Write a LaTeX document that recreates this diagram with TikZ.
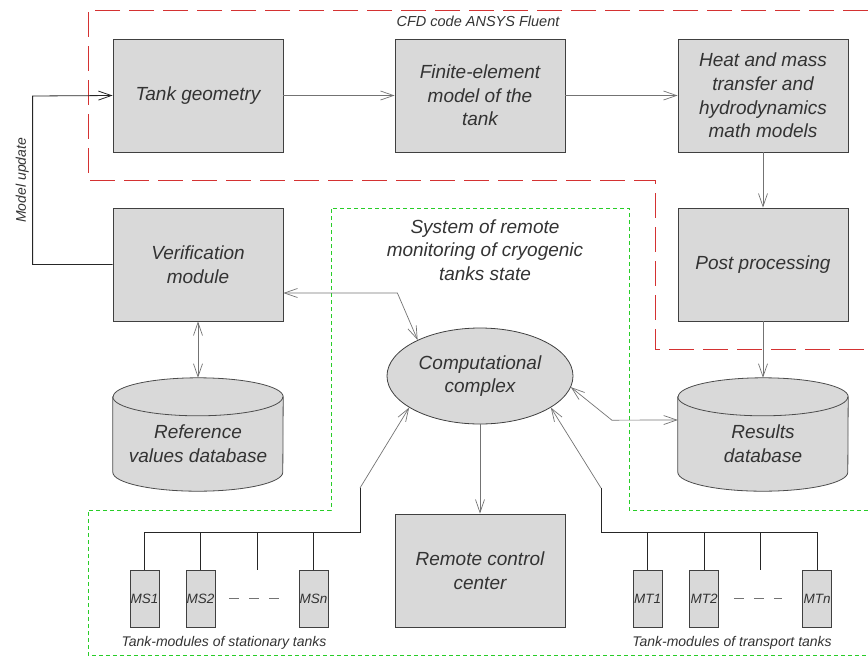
\documentclass[tikz,border=0pt]{standalone}
\usepackage{fontspec}
\setmainfont{Liberation Sans}
\usetikzlibrary{arrows.meta,shapes.geometric,backgrounds,calc}
\definecolor{boxgray}{RGB}{217,217,217}
\definecolor{cfdred}{RGB}{212,50,50}
\definecolor{rmsgreen}{RGB}{40,205,40}

\begin{document}
\begin{tikzpicture}[
    x=1pt, y=-1pt,
    font=\itshape\fontsize{19}{23.6}\selectfont,
    >={Straight Barb[length=13pt,width=9pt]},
    block/.style = {draw=black!75, fill=boxgray, line width=0.8pt, minimum width=170,
        minimum height=113, align=center, text=black!80},
    hub/.style = {ellipse, draw=black!75, fill=boxgray, line width=0.8pt, minimum width=186,
        minimum height=96, inner sep=0pt, align=center, text=black!80},
    drum/.style = {minimum width=170, minimum height=94, align=center, text=black!80},
    drumbody/.style = {draw=black!70, fill=boxgray, line width=0.8pt},
    module/.style = {draw=black!75, fill=boxgray, line width=0.8pt, minimum width=29,
        minimum height=57, inner sep=0pt, text=black!80, font=\itshape\fontsize{13.5}{15}\selectfont},
    link/.style = {draw=black!55, line width=0.7pt},
    bus/.style = {draw=black!85, line width=0.8pt},
    note/.style = {text=black!80, font=\itshape\fontsize{14}{16}\selectfont},
    cfd/.style = {draw=cfdred, line width=1pt, dash pattern=on 25pt off 9pt},
    rms/.style = {draw=rmsgreen, line width=1pt, dash pattern=on 4pt off 3pt}
  ]
  \useasboundingbox (0,0) rectangle (868,657);

  % frames
  \draw[cfd] (868,10) -- (88,10) -- (88,180) -- (655,180) -- (655,349) -- (868,349);
  \draw[rms] (868,510) -- (629,510) -- (629,208) -- (331,208) -- (331,510) -- (88,510)
    -- (88,655) -- (868,655);
  \node[note, font=\itshape\fontsize{14.5}{16}\selectfont] (cfdlabel) at (478,21) {CFD code ANSYS Fluent};
  \node[align=center, text=black!80] (rmslabel) at (485,250) {System of remote\\monitoring of cryogenic\\tanks state};

  \node[block] (tank) at (198,95.5) {Tank geometry};
  \node[block] (fem) at (480,95.5) {Finite-element\\model of the\\tank};
  \node[block] (heat) at (763,95.5) {Heat and mass\\transfer and\\hydrodynamics\\math models};
  \node[block] (post) at (763,264.5) {Post processing};
  \node[block] (verif) at (198,264.5) {Verification\\module};
  \node[drum] (refdb) at (198,444) {Reference\\values database};
  \node[drum] (resdb) at (763,444) {Results\\database};
  \node[hub] (comp) at (480,376) {Computational\\complex};
  \node[block] (remote) at (480,570.5) {Remote control\\center};

  \foreach \n/\x/\t in {ms1/144.5/MS1, ms2/200.5/MS2, msn/313.5/MSn,
                        mt1/647.5/MT1, mt2/704/MT2, mtn/817/MTn}
    \node[module] (\n) at (\x,598.5) {\t};
  \node[note] (mslabel) at (224,643) {Tank-modules of stationary tanks};
  \node[note] (mtlabel) at (732,643) {Tank-modules of transport tanks};

  % database drums
  \begin{scope}[on background layer]
    \foreach \d in {refdb,resdb} {
      \path[drumbody] (\d.north west) -- ([yshift=19pt]\d.south west)
        arc[start angle=180, end angle=360, x radius=85pt, y radius=19pt]
        -- (\d.north east)
        arc[start angle=0, end angle=180, x radius=85pt, y radius=19pt] -- cycle;
      \draw[drumbody, fill=none] (\d.north west)
        arc[start angle=180, end angle=360, x radius=85pt, y radius=19pt];
    }
  \end{scope}

  \draw[link,->] (tank) -- (fem);
  \draw[link,->] (fem) -- (heat);
  \draw[link,->] (heat) -- (post);
  \draw[link,->] (post.south) -- ([yshift=19pt]resdb.north);
  \draw[link,<->] (verif.south) -- ([yshift=19pt]refdb.north);
  \draw[bus,->] (verif.west) -- ++(-80,0) -- ++(0,-168.5)
    node[midway, above, rotate=90, note, font=\itshape\fontsize{14}{16}\selectfont] (mulabel) {Model update}
    -- (tank.west);
  \draw[link,<->] ([yshift=-28.5pt]verif.east) -- ++(114,0) -- (comp.150);
  \draw[link,<->] (comp.-7) -- ++(41,33) -- ([yshift=24pt]resdb.west);
  \draw[link,->] (comp) -- (remote);

  % stationary tank-modules
  \coordinate (sbus) at (360,532);
  \draw[bus] (ms1.north) |- (sbus) -- ++(0,-44) coordinate (srise);
  \draw[link,->] (srise) -- (comp.204);
  \foreach \m in {ms2,msn}
    \draw[bus] (\m.north) -- (\m.north |- sbus);
  \coordinate (sgap) at ($(ms2.north)!0.5!(msn.north)$);
  \draw[bus] (sgap) -- (sgap |- sbus);
  \draw[link, dash pattern=on 10pt off 10pt] ([xshift=14pt]ms2.east) -- ([xshift=-20pt]msn.west);

  % transport tank-modules
  \coordinate (tbus) at (601,532);
  \draw[bus] (mtn.north) |- (tbus) -- ++(0,-44) coordinate (trise);
  \draw[link,->] (trise) -- (comp.-24);
  \foreach \m in {mt1,mt2}
    \draw[bus] (\m.north) -- (\m.north |- tbus);
  \coordinate (tgap) at ($(mt2.north)!0.5!(mtn.north)$);
  \draw[bus] (tgap) -- (tgap |- tbus);
  \draw[link, dash pattern=on 10pt off 10pt] ([xshift=15pt]mt2.east) -- ([xshift=-20pt]mtn.west);
\end{tikzpicture}
\end{document}
